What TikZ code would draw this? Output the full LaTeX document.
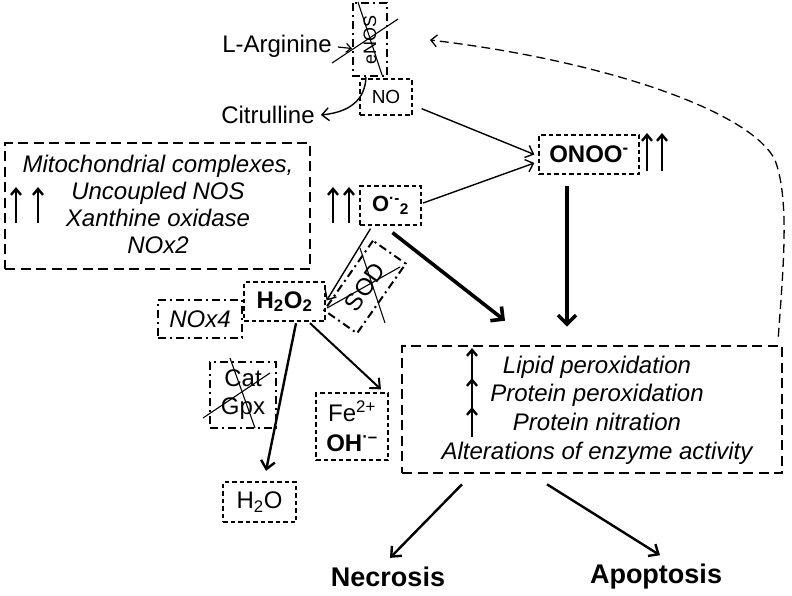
\documentclass[tikz,border=0pt]{standalone}
\usepackage{fontspec}
\setmainfont{Liberation Sans}
\usetikzlibrary{arrows.meta}
\begin{document}
\begin{tikzpicture}[x=1pt,y=-1pt,
  every node/.style={inner sep=0pt, font=\fontsize{24}{27}\selectfont},
  fbox/.style={draw, line width=1.3pt, dash pattern=on 4.5pt off 3pt},
  bigbox/.style={draw, line width=2.6pt, dash pattern=on 10pt off 5.5pt},
  ddbox/.style={draw, line width=2pt, dash pattern=on 8pt off 4pt on 2pt off 4pt},
  thinarrow/.style={line width=1.4pt, -{Straight Barb[length=7pt,width=13pt,line width=1.4pt]}},
  medarrow/.style={line width=2.4pt, -{Straight Barb[length=8pt,width=14pt,line width=2.4pt]}},
  thickarrow/.style={line width=3.6pt, -{Straight Barb[length=9pt,width=18pt,line width=3.6pt]}},
  uparrow/.style={line width=2.6pt, -{Straight Barb[length=6pt,width=10pt,line width=2.4pt]}},
  crossline/.style={line width=1.1pt},
  feedback/.style={line width=1.3pt, dash pattern=on 9pt off 5pt, -{Straight Barb[length=6pt,width=12pt,line width=1.3pt,sep=0pt]}}
]
\useasboundingbox (0,0) rectangle (792,595);

% boxes
\node[ddbox, rotate=90, minimum width=73pt, minimum height=34pt, font=\fontsize{18}{20}\selectfont] (enos) at (370,39.5) {eNOS};
\node[fbox, minimum width=52pt, minimum height=36pt, font=\fontsize{19}{21}\selectfont] (no) at (386,97) {NO};
\node[fbox, minimum width=100pt, minimum height=39pt] (onoo) at (589,154.5) {\textbf{ONOO\textsuperscript{-}}};
\node[fbox, minimum width=61pt, minimum height=39pt, font=\fontsize{22}{24}\selectfont] (o2) at (390.5,205.5) {\textbf{O\textsuperscript{·-}\textsubscript{2}}};
\node[bigbox, minimum width=305pt, minimum height=126pt] (mito) at (157.5,206) {};
\node[align=center, font=\fontsize{24}{27}\selectfont\itshape] (mitotext) at (158,204)
  {Mitochondrial complexes,\\Uncoupled NOS\\Xanthine oxidase\\NOx2};
\node[fbox, minimum width=81pt, minimum height=39pt] (h2o2) at (284.5,301.5) {\textbf{H\textsubscript{2}O\textsubscript{2}}};
\node[ddbox, minimum width=84pt, minimum height=38pt, font=\fontsize{24}{27}\selectfont\itshape] (nox4) at (200,319) {NOx4};
\node[ddbox, rotate=55, minimum width=85pt, minimum height=40pt] (sod) at (365,287) {SOD};
\node[ddbox, minimum width=66pt, minimum height=66pt, align=center, font=\fontsize{24}{28}\selectfont] (catgpx) at (243,395) {Cat\\Gpx};
\node[fbox, minimum width=72pt, minimum height=67pt, align=center, font=\fontsize{24}{30}\selectfont] (fe) at (352,426.5) {Fe\textsuperscript{2+}\\\textbf{OH\textsuperscript{·–}}};
\node[fbox, minimum width=73pt, minimum height=40pt] (h2o) at (259.5,502) {H\textsubscript{2}O};
\node[bigbox, minimum width=380pt, minimum height=127pt] (eff) at (592,409.5) {};
\node[align=center, font=\fontsize{24}{28.8}\selectfont\itshape] (efftext) at (597,410)
  {Lipid peroxidation\\Protein peroxidation\\Protein nitration\\Alterations of enzyme activity};

% plain labels
\node (larg) at (277,46) {L-Arginine};
\node (citr) at (268,115) {Citrulline};
\node[font=\fontsize{27}{29}\selectfont\bfseries] (necr) at (388,577) {Necrosis};
\node[font=\fontsize{27}{29}\selectfont\bfseries] (apop) at (656,577) {Apoptosis};
\coordinate (argtarget) at (430,40);

% up arrows
\draw[uparrow] (16,223) -- (16,187);
\draw[uparrow] (38,223) -- (38,187);
\draw[uparrow] (333,223) -- (333,187);
\draw[uparrow] (349,223) -- (349,187);
\draw[uparrow] (647,171) -- (647,133);
\draw[uparrow] (662,171) -- (662,133);
\draw[uparrow] (472,437) -- (472,407);
\draw[uparrow] (472,409) -- (472,378);
\draw[uparrow] (472,380) -- (472,348);

% connectors
\draw[line width=1.2pt, -{Straight Barb[length=5pt,width=9pt,line width=1.2pt]}] ([xshift=6pt,yshift=-1pt]larg.east) -- ([shift={(0,9)}]enos.north);
\draw[thinarrow] ([xshift=-4pt]enos.west) .. controls (365,100) and (350,112) .. ([xshift=6pt]citr.east);
\draw[thinarrow] ([shift={(9,-7)}]no.south east) -- ([xshift=-4pt]onoo.west);
\draw[thinarrow] ([shift={(1.5,-2.5)}]o2.east) -- ([shift={(-4,8.5)}]onoo.west);
\draw[thickarrow] ([shift={(-22,11)}]onoo.south) -- ([shift={(-25,-18)}]eff.north);
\draw[thinarrow] ([shift={(-20,3)}]o2.south) -- ([shift={(1,-1)}]h2o2.east);
\draw[thickarrow] ([shift={(2,7)}]o2.south) -- ([shift={(-87,-24)}]eff.north);
\draw[medarrow] ([shift={(11.5,1.5)}]h2o2.south) -- ([shift={(6.5,-10.5)}]h2o.north);
\draw[line width=2pt, -{Straight Barb[length=8pt,width=14pt,line width=2pt]}] ([shift={(25.5,1.5)}]h2o2.south) -- ([shift={(29,-3)}]fe.north);
\draw[medarrow] ([shift={(-130,10)}]eff.south) -- ([shift={(2,-9)}]necr.north);
\draw[medarrow] ([shift={(-45,10)}]eff.south) -- ([shift={(4,-9)}]apop.north);
\draw[feedback] ([shift={(-5,-8)}]eff.north east) .. controls (783,270) and (790,200) .. (775,160)
  .. controls (750,110) and (600,60) .. (argtarget);

% cross-out lines
\draw[crossline] (332,63) -- (398,19);
\draw[crossline] (358,2) -- (382,75);
\draw[crossline] (327,308) -- (400,267);
\draw[crossline] (360,248) -- (385,323);
\draw[crossline] (203,418) -- (270,373);
\draw[crossline] (230,358) -- (255,428);
\end{tikzpicture}
\end{document}
